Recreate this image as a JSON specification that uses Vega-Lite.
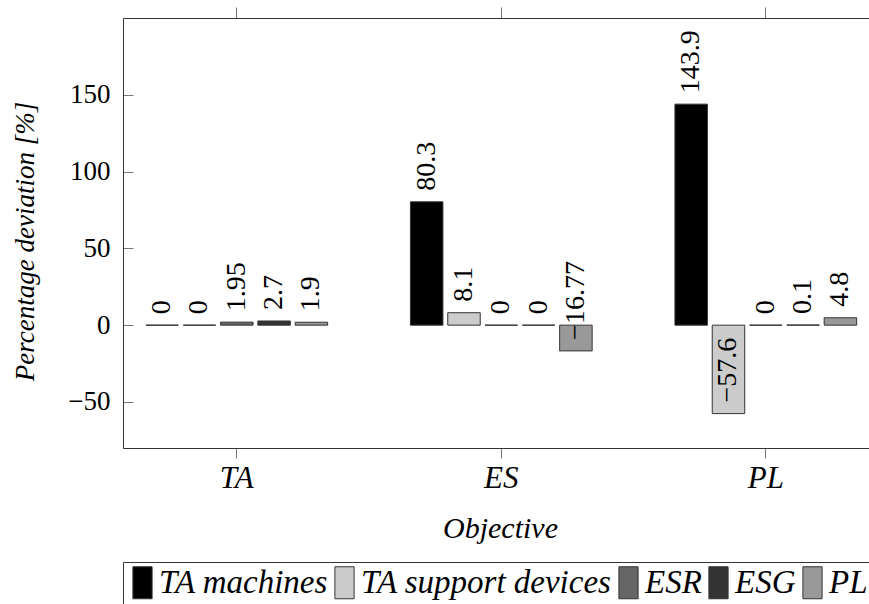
{
  "$schema": "https://vega.github.io/schema/vega-lite/v6.json",
  "width": 746,
  "height": 430,
  "autosize": {"type": "none"},
  "padding": {"left": 123, "top": 18, "right": 0, "bottom": 156},
  "config": {"view": {"stroke": null}, "font": "Liberation Serif"},
  "data": {
    "values": [
      {"Objective": "TA", "Series": "TA machines", "value": 0},
      {"Objective": "TA", "Series": "TA support devices", "value": 0},
      {"Objective": "TA", "Series": "ESR", "value": 1.95},
      {"Objective": "TA", "Series": "ESG", "value": 2.7},
      {"Objective": "TA", "Series": "PL", "value": 1.9},
      {"Objective": "ES", "Series": "TA machines", "value": 80.3},
      {"Objective": "ES", "Series": "TA support devices", "value": 8.1},
      {"Objective": "ES", "Series": "ESR", "value": 0},
      {"Objective": "ES", "Series": "ESG", "value": 0},
      {"Objective": "ES", "Series": "PL", "value": -16.77},
      {"Objective": "PL", "Series": "TA machines", "value": 143.9},
      {"Objective": "PL", "Series": "TA support devices", "value": -57.6},
      {"Objective": "PL", "Series": "ESR", "value": 0},
      {"Objective": "PL", "Series": "ESG", "value": 0.1},
      {"Objective": "PL", "Series": "PL", "value": 4.8}
    ]
  },
  "layer": [
    {
      "mark": {"type": "bar", "stroke": "#333", "strokeWidth": 1},
      "encoding": {
        "x": {
          "field": "Objective", "type": "nominal", "sort": ["TA", "ES", "PL"],
          "scale": {"paddingInner": 0.313, "paddingOuter": 0.0667, "align": 0.65},
          "axis": {
            "title": "Objective", "labelAngle": 0, "labelFont": "Liberation Serif",
            "labelFontStyle": "italic", "labelFontSize": 31, "labelColor": "black",
            "labelPadding": 5, "tickSize": 10, "tickColor": "#777", "domainColor": "#333",
            "titleFont": "Liberation Serif", "titleFontStyle": "italic", "titleFontWeight": "normal",
            "titleFontSize": 30, "titleX": 377, "titleY": 89, "titleBaseline": "alphabetic",
            "titleColor": "black"
          }
        },
        "xOffset": {
          "field": "Series", "type": "nominal",
          "sort": ["TA machines", "TA support devices", "ESR", "ESG", "PL"],
          "scale": {"paddingInner": 0.129, "paddingOuter": 0}
        },
        "y": {
          "field": "value", "type": "quantitative",
          "scale": {"domain": [-80, 200], "nice": false, "zero": false},
          "axis": {
            "values": [-50, 0, 50, 100, 150], "grid": false, "title": "Percentage deviation [%]",
            "tickSize": -10, "labelPadding": 23, "tickColor": "#777", "domainColor": "#333",
            "labelFont": "Liberation Serif", "labelFontSize": 27, "labelColor": "black",
            "titleFont": "Liberation Serif", "titleFontStyle": "italic", "titleFontWeight": "normal",
            "titleFontSize": 27, "titleColor": "black", "titleAngle": 270, "titleX": -90, "titleY": 223,
            "titleBaseline": "alphabetic", "titleAlign": "center"
          }
        },
        "color": {
          "field": "Series", "type": "nominal",
          "sort": ["TA machines", "TA support devices", "ESR", "ESG", "PL"],
          "scale": {
            "domain": ["TA machines", "TA support devices", "ESR", "ESG", "PL"],
            "range": ["#000000", "#cccccc", "#666666", "#333333", "#999999"]
          },
          "legend": {
            "orient": "none", "legendX": 0, "legendY": 544, "direction": "horizontal",
            "columns": 5, "title": null, "strokeColor": "#333", "padding": 4,
            "symbolType": "M-0.6,-1H0.6V1H-0.6Z", "symbolSize": 1024,
            "symbolStrokeColor": "#333", "symbolStrokeWidth": 1, "symbolOpacity": 1,
            "labelFont": "Liberation Serif", "labelFontStyle": "italic", "labelFontSize": 33,
            "labelColor": "black", "labelOffset": 0, "columnPadding": 1, "symbolOffset": -1,
            "labelLimit": 500
          }
        }
      }
    },
    {
      "mark": {"type": "text", "angle": 270, "align": "left", "baseline": "middle", "dx": 11,
               "fontSize": 28, "font": "Liberation Serif", "color": "black"},
      "encoding": {
        "x": {
          "field": "Objective", "type": "nominal", "sort": ["TA", "ES", "PL"],
          "axis": {"orient": "top", "labels": false, "title": null, "tickSize": 11,
                   "tickColor": "#777", "domainColor": "#333"}
        },
        "xOffset": {
          "field": "Series", "type": "nominal",
          "sort": ["TA machines", "TA support devices", "ESR", "ESG", "PL"]
        },
        "y": {"field": "value", "type": "quantitative"},
        "text": {"field": "value", "type": "quantitative", "format": ".4~g"}
      }
    }
  ],
  "resolve": {"axis": {"x": "independent"}}
}
